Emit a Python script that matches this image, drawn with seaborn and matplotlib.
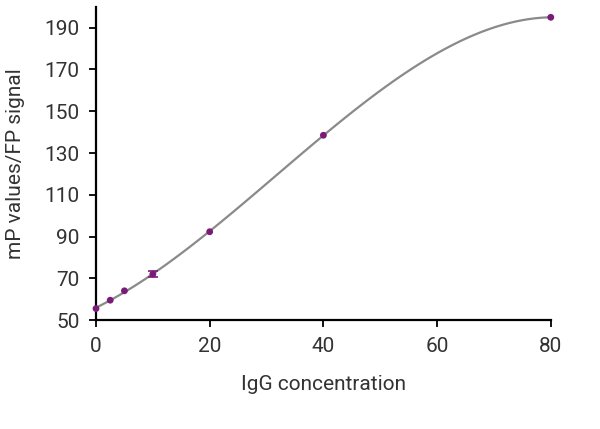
import numpy as np
import pandas as pd
import seaborn as sns
import matplotlib.pyplot as plt

# IgG titration, FP signal
igg_conc = [0, 2.5, 5, 10, 20, 40, 80]
mp_values = [55.5, 59.5, 64, 72, 92.3, 138.5, 195]
mp_err = [0, 0, 0, 1.6, 0, 0, 0]

df = pd.DataFrame({'conc': igg_conc, 'mp': mp_values, 'err': mp_err})

sns.set_style('ticks')
plt.rcParams['font.family'] = ['Roboto', 'DejaVu Sans']

purple = '#7a1b78'
grey = '#8a8a8a'
txt = '#333333'

fig = plt.figure(figsize=(6, 4.29), dpi=100)
ax = fig.add_axes([0.16, 0.254, 0.758, 0.73])

# fitted curve
sns.regplot(data=df, x='conc', y='mp', order=3, ci=None, scatter=False,
            truncate=True, line_kws={'color': grey, 'lw': 1.6}, ax=ax)

eb = df[df['err'] > 0]
ax.errorbar(eb['conc'], eb['mp'], yerr=eb['err'], fmt='none',
            ecolor=purple, elinewidth=1.2, capsize=3.5, capthick=1.2, zorder=3)
pts = sns.scatterplot(data=df, x='conc', y='mp', color=purple, s=24,
                      edgecolor='none', zorder=4, ax=ax)
for c in ax.collections:
    c.set_clip_on(False)

ax.set_xlim(0, 80)
ax.set_ylim(50, 200)
ax.set_xticks([0, 20, 40, 60, 80])
ax.set_yticks(np.arange(50, 191, 20))
ax.tick_params(labelsize=15, length=5, width=1.3, pad=7,
               colors='black', labelcolor=txt)
for s in ['left', 'bottom']:
    ax.spines[s].set_linewidth(1.6)
    ax.spines[s].set_color('black')
sns.despine(ax=ax)

ax.set_xlabel('IgG concentration', fontsize=15, color=txt, labelpad=14)
ax.set_ylabel('mP values/FP signal', fontsize=15, color=txt, labelpad=14)

plt.savefig('out.png', dpi=100)
